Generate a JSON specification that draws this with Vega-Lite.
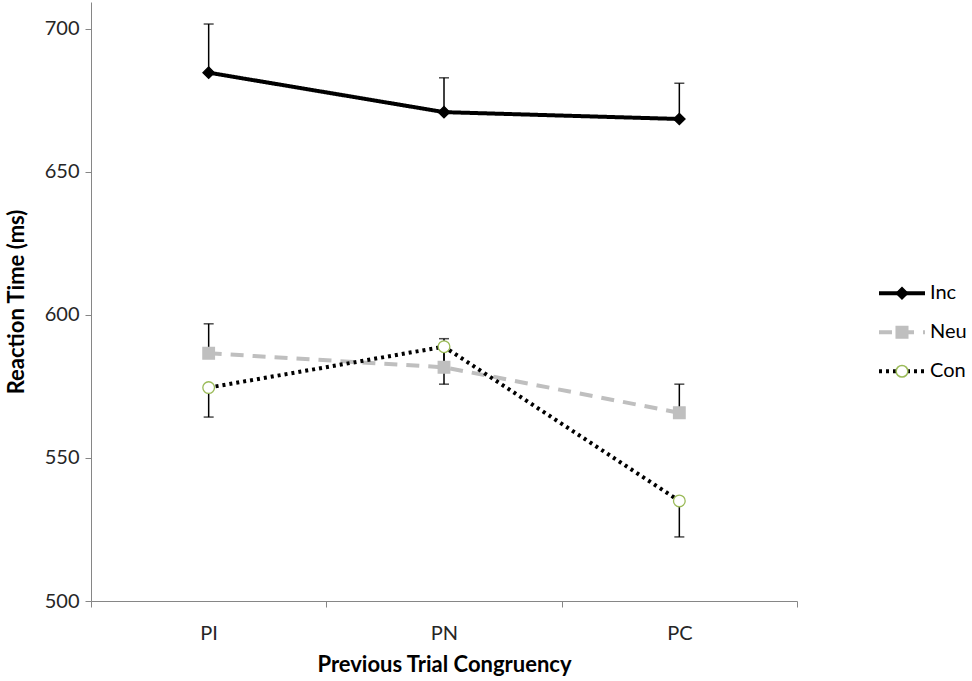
{
  "$schema": "https://vega.github.io/schema/vega-lite/v6.json",
  "description": "Reaction time by previous trial congruency for incongruent, neutral and congruent trials",
  "width": 706,
  "height": 599,
  "autosize": "none",
  "padding": {"left": 91, "top": 2, "right": 175, "bottom": 80},
  "background": "white",
  "data": {
    "values": [
      {"prev": "PI", "series": "Inc", "rt": 684.7, "err_end": 701.7},
      {"prev": "PN", "series": "Inc", "rt": 670.9, "err_end": 682.9},
      {"prev": "PC", "series": "Inc", "rt": 668.5, "err_end": 681.0},
      {"prev": "PI", "series": "Neu", "rt": 586.6, "err_end": 596.9},
      {"prev": "PN", "series": "Neu", "rt": 581.7, "err_end": 591.7},
      {"prev": "PC", "series": "Neu", "rt": 565.8, "err_end": 575.8},
      {"prev": "PI", "series": "Con", "rt": 574.6, "err_end": 564.3},
      {"prev": "PN", "series": "Con", "rt": 588.9, "err_end": 575.8},
      {"prev": "PC", "series": "Con", "rt": 535.0, "err_end": 522.4}
    ]
  },
  "encoding": {
    "x": {
      "field": "prev",
      "type": "nominal",
      "sort": ["PI", "PN", "PC"],
      "scale": {"paddingInner": 0, "paddingOuter": 0},
      "axis": {
        "title": "Previous Trial Congruency",
        "titleFont": "Lato",
        "titleFontSize": 22,
        "titleFontWeight": "bold",
        "titleColor": "#000",
        "titlePadding": 11,
        "labelFont": "Lato",
        "labelFontSize": 20,
        "labelColor": "#262626",
        "labelAngle": 0,
        "labelPadding": 16,
        "tickBand": "extent",
        "tickSize": 6,
        "tickColor": "#868686",
        "domainColor": "#868686",
        "grid": false
      }
    }
  },
  "layer": [
    {
      "mark": {"type": "rule", "color": "#000", "strokeWidth": 1.5},
      "encoding": {
        "y": {
          "field": "rt",
          "type": "quantitative",
          "scale": {"domain": [500, 709.4], "nice": false, "zero": false},
          "axis": {
            "title": "Reaction Time (ms)",
            "titleFont": "Lato",
            "titleFontSize": 22,
            "titleFontWeight": "bold",
            "titleColor": "#000",
            "titlePadding": 16,
            "values": [500, 550, 600, 650, 700],
            "labelFont": "Lato",
            "labelFontSize": 20,
            "labelColor": "#262626",
            "labelPadding": 6,
            "tickSize": 6,
            "tickColor": "#868686",
            "domainColor": "#868686",
            "grid": false
          }
        },
        "y2": {"field": "err_end"}
      }
    },
    {
      "mark": {"type": "tick", "color": "#000", "thickness": 1.5, "size": 10},
      "encoding": {
        "y": {"field": "err_end", "type": "quantitative"}
      }
    },
    {
      "mark": {"type": "line"},
      "encoding": {
        "y": {"field": "rt", "type": "quantitative"},
        "color": {
          "field": "series",
          "type": "nominal",
          "scale": {"domain": ["Inc", "Neu", "Con"], "range": ["#000000", "#BFBFBF", "#000000"]},
          "legend": {
            "title": null, "orient": "none", "direction": "vertical",
            "legendX": 786, "legendY": 272, "symbolType": "stroke", "symbolSize": 2116,
            "clipHeight": 38.5, "rowPadding": 0, "padding": 0,
            "labelFont": "Lato", "labelFontSize": 20, "labelColor": "#000", "labelOffset": 3
          }
        },
        "strokeDash": {
          "field": "series",
          "type": "nominal",
          "scale": {"domain": ["Inc", "Neu", "Con"], "range": [[1, 0], [13, 9], [3, 4]]},
          "legend": {
            "title": null, "orient": "none", "direction": "vertical",
            "legendX": 786, "legendY": 272, "symbolType": "stroke", "symbolSize": 2116,
            "clipHeight": 38.5, "rowPadding": 0, "padding": 0,
            "labelFont": "Lato", "labelFontSize": 20, "labelColor": "#000", "labelOffset": 3
          }
        },
        "strokeWidth": {
          "field": "series",
          "type": "nominal",
          "scale": {"domain": ["Inc", "Neu", "Con"], "range": [4, 4, 3]},
          "legend": {
            "title": null, "orient": "none", "direction": "vertical",
            "legendX": 786, "legendY": 272, "symbolType": "stroke", "symbolSize": 2116,
            "clipHeight": 38.5, "rowPadding": 0, "padding": 0,
            "labelFont": "Lato", "labelFontSize": 20, "labelColor": "#000", "labelOffset": 3
          }
        }
      }
    },
    {
      "mark": {"type": "point", "filled": true, "strokeWidth": 1.3, "opacity": 1},
      "encoding": {
        "y": {"field": "rt", "type": "quantitative"},
        "shape": {
          "field": "series",
          "type": "nominal",
          "scale": {"domain": ["Inc", "Neu", "Con", "none"], "range": ["diamond", "square", "circle", "circle"]},
          "legend": {
            "title": null, "orient": "none", "direction": "vertical", "values": ["Inc", "Neu", "Con"],
            "legendX": 801, "legendY": 272,
            "clipHeight": 38.5, "rowPadding": 0, "padding": 0,
            "labelFontSize": 20, "labelExpr": "''"
          }
        },
        "fill": {
          "field": "series",
          "type": "nominal",
          "scale": {"domain": ["Inc", "Neu", "Con", "none"], "range": ["#000000", "#BFBFBF", "#FFFFFF", "#FFFFFF"]},
          "legend": {
            "title": null, "orient": "none", "direction": "vertical", "values": ["Inc", "Neu", "Con"],
            "legendX": 801, "legendY": 272,
            "clipHeight": 38.5, "rowPadding": 0, "padding": 0,
            "labelFontSize": 20, "labelExpr": "''"
          }
        },
        "stroke": {
          "field": "series",
          "type": "nominal",
          "scale": {"domain": ["Inc", "Neu", "Con", "none"], "range": ["#000000", "#BFBFBF", "#9BBB59", "#9BBB59"]},
          "legend": {
            "title": null, "orient": "none", "direction": "vertical", "values": ["Inc", "Neu", "Con"],
            "legendX": 801, "legendY": 272,
            "clipHeight": 38.5, "rowPadding": 0, "padding": 0,
            "labelFontSize": 20, "labelExpr": "''"
          }
        },
        "size": {
          "field": "series",
          "type": "nominal",
          "scale": {"domain": ["Inc", "Neu", "Con", "none"], "range": [130, 140, 120, 120]},
          "legend": {
            "title": null, "orient": "none", "direction": "vertical", "values": ["Inc", "Neu", "Con"],
            "legendX": 801, "legendY": 272,
            "clipHeight": 38.5, "rowPadding": 0, "padding": 0,
            "labelFontSize": 20, "labelExpr": "''"
          }
        }
      }
    }
  ],
  "config": {
    "view": {"stroke": null}
  }
}
